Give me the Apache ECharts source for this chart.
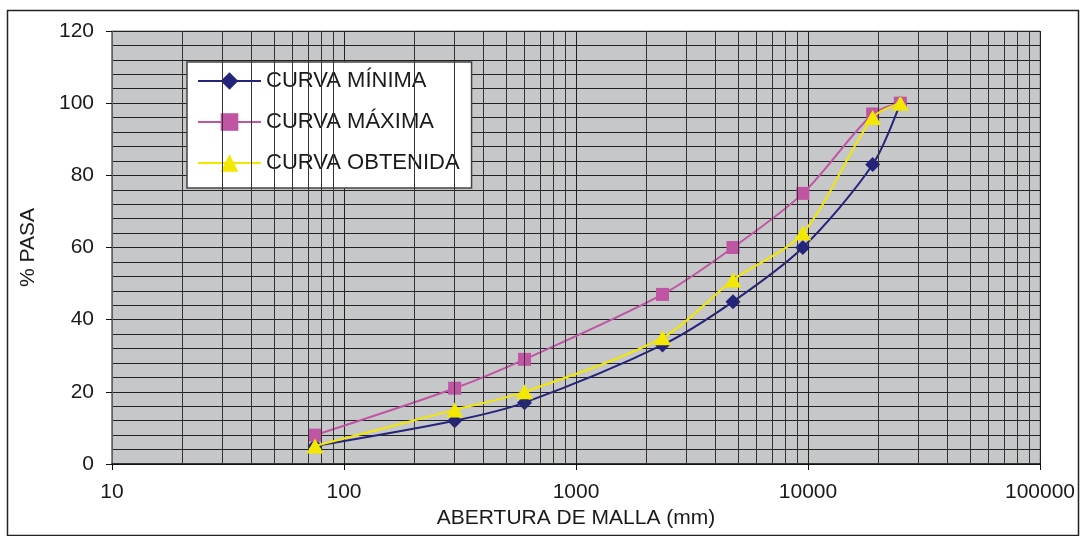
<!DOCTYPE html>
<html><head><meta charset="utf-8">
<script src="https://cdn.jsdelivr.net/npm/echarts@6/dist/echarts.min.js"></script>
<style>html,body{margin:0;padding:0;background:#fff}#c{width:1080px;height:536px}</style>
</head><body><div id="c"></div>
<script>
const sieves = [75, 300, 600, 2360, 4750, 9500, 19000, 25000];
const curvaMinima = [5, 12, 17, 33, 45, 60, 83, 100];
const curvaMaxima = [8, 21, 29, 47, 60, 75, 97, 100];
const curvaObtenida = [5, 15, 20, 35, 51, 64, 96, 100];
const seriesNames = ['CURVA MÍNIMA', 'CURVA MÁXIMA', 'CURVA OBTENIDA'];
const minorLogLines = [];
[10, 100, 1000, 10000].forEach(d => { for (let k = 2; k <= 9; k++) minorLogLines.push(d * k); });

const font = '"Liberation Sans", Arial, sans-serif';
const pair = (xs, ys) => xs.map((x, i) => [x, ys[i]]);
const chart = echarts.init(document.getElementById('c'), null, {renderer: 'canvas'});
chart.setOption({
  animation: false,
  backgroundColor: '#fff',
  graphic: [{type: 'rect', shape: {x: 7.5, y: 10.5, width: 1071, height: 525}, style: {fill: 'none', stroke: '#222', lineWidth: 1.5}, z: 100, silent: true}],
  grid: {left: 112, top: 31, width: 928, height: 433, show: true, backgroundColor: '#c6c7c9', borderColor: '#8a8a8a', borderWidth: 1},
  legend: {
    orient: 'vertical', left: 187, top: 62,
    backgroundColor: '#fff', borderColor: '#444', borderWidth: 1.5,
    padding: [8, 12, 14, 10], itemGap: 19, itemWidth: 63, itemHeight: 22,
    textStyle: {fontFamily: font, fontSize: 22, color: '#1a1a1a', lineHeight: 22},
    data: seriesNames
  },
  xAxis: {
    type: 'log', logBase: 10, min: 10, max: 100000,
    name: 'ABERTURA DE MALLA (mm)', nameLocation: 'middle', nameGap: 44,
    nameTextStyle: {fontFamily: font, fontSize: 21, color: '#1a1a1a'},
    axisLine: {show: true, lineStyle: {color: '#111', width: 1.5}},
    axisTick: {show: true, length: 6, lineStyle: {color: '#111'}},
    axisLabel: {fontFamily: font, fontSize: 21, color: '#1a1a1a', margin: 18, formatter: v => String(Math.round(v))},
    splitLine: {show: true, lineStyle: {color: '#222', width: 1}},
    minorTick: {show: false}, minorSplitLine: {show: false}
  },
  yAxis: {
    type: 'value', min: 0, max: 120, interval: 20,
    name: '% PASA', nameLocation: 'middle', nameGap: 73, nameRotate: 90,
    nameTextStyle: {fontFamily: font, fontSize: 21, color: '#1a1a1a'},
    axisLine: {show: true, lineStyle: {color: '#777', width: 1.5}},
    axisTick: {show: true, length: 6, lineStyle: {color: '#111'}},
    axisLabel: {fontFamily: font, fontSize: 21, color: '#1a1a1a', margin: 18},
    splitLine: {show: true, lineStyle: {color: '#222', width: 1}},
    minorTick: {show: false, splitNumber: 5},
    minorSplitLine: {show: true, lineStyle: {color: '#222', width: 1}}
  },
  series: [
    {
      name: '_grid', type: 'line', data: [], silent: true,
      markLine: {silent: true, symbol: 'none', label: {show: false},
        lineStyle: {type: 'solid', color: '#333', width: 1},
        data: minorLogLines.map(v => ({xAxis: v}))}
    },
    {
      name: seriesNames[0], type: 'line', data: pair(sieves, curvaMinima), smooth: 0.3,
      symbol: 'diamond', symbolSize: 15,
      lineStyle: {color: '#24247a', width: 2}, itemStyle: {color: '#24247a'}, z: 3
    },
    {
      name: seriesNames[1], type: 'line', data: pair(sieves, curvaMaxima), smooth: 0.3,
      symbol: 'rect', symbolSize: 13,
      lineStyle: {color: '#c055a3', width: 2}, itemStyle: {color: '#c055a3'}, z: 4
    },
    {
      name: seriesNames[2], type: 'line', data: pair(sieves, curvaObtenida), smooth: 0.3,
      symbol: 'triangle', symbolSize: [17, 15],
      lineStyle: {color: '#f2e800', width: 2}, itemStyle: {color: '#f2e800'}, z: 5
    }
  ]
});
</script></body></html>
